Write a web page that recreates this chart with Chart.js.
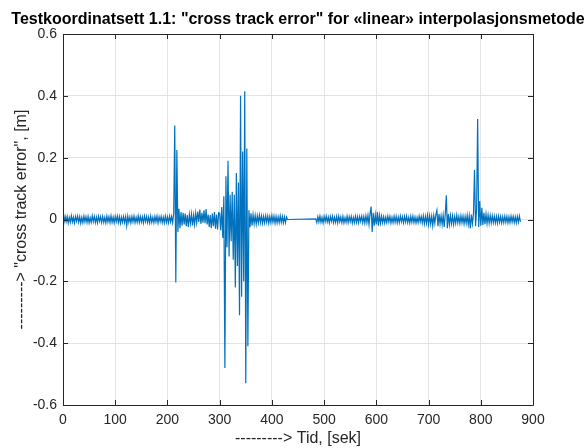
<!DOCTYPE html>
<html>
<head>
<meta charset="utf-8">
<script src="https://cdn.jsdelivr.net/npm/chart.js@4"></script>
<style>
  html, body { margin: 0; padding: 0; background: #ffffff; }
  #cte { display: block; }
</style>
</head>
<body>
<canvas id="cte" width="584" height="448"></canvas>
<script>
// cross track error [m], sampled every 2 s; each run starts at the time in segmentStart
const sampleStep = 2;
const segmentStart = [0, 210, 300, 362, 484];

const leadNoise = [
    0.009, -0.008, 0.011, -0.007, 0.01, -0.011, 0.007, -0.009, 0.012, -0.008,
    0.008, -0.011, 0.01, -0.006, 0.011, -0.009, 0.009, -0.012, 0.007, -0.01,
    0.011, -0.008, 0.009, -0.01, 0.01, -0.011, 0.006, -0.009, 0.012, -0.007,
    0.01, -0.01, 0.008, -0.011, 0.011, -0.006, 0.009, -0.01, 0.01, -0.009,
    0.007, -0.011, 0.011, -0.008, 0.009, -0.01, 0.012, -0.009, 0.008, -0.011,
    0.01, -0.007, 0.011, -0.01, 0.009, -0.012, 0.008, -0.009, 0.01, -0.01,
    0.009, -0.02, 0.011, -0.009, 0.008, -0.011, 0.01, -0.008, 0.011, -0.01,
    0.007, -0.009, 0.012, -0.01, 0.01, -0.008, 0.009, -0.011, 0.011, -0.007,
    0.01, -0.01, 0.008, -0.011, 0.011, -0.009, 0.007, -0.01, 0.01, -0.008,
    0.011, -0.011, 0.009, -0.007, 0.01, -0.01, 0.008, -0.011, 0.011, -0.009,
    0.009, -0.01, 0.011, -0.008, 0.01
];

const firstSpike = [
    -0.01, 0.02, 0.304, -0.204, 0.225, -0.04, 0.035, -0.028, 0.024, -0.02,
    0.022, -0.016, 0.019, -0.022, 0.014, -0.024, 0.016, -0.012, 0.018, -0.019,
    0.014, -0.016, 0.02, -0.01, 0.026, -0.008, 0.032, -0.014, 0.022, -0.01,
    0.03, -0.012, 0.034, -0.016, 0.016, -0.024, 0.014, -0.028, 0.019, -0.022,
    0.024, -0.03, 0.016, -0.032, 0.022
];

const burst = [
    0.02, -0.035, 0.04, -0.06, 0.075, -0.48, 0.14, -0.09, 0.19, -0.12,
    0.08, -0.07, 0.09, -0.13, 0.08, -0.22, 0.15, -0.15, 0.12, -0.31,
    0.40, -0.25, 0.22, -0.20, 0.415, -0.53, 0.23, -0.41, 0.03, -0.025,
    0.02
];

const settle = [
    -0.02, 0.016, -0.014, 0.013, -0.015, 0.012, -0.011, 0.014, -0.01, 0.012,
    -0.012, 0.01, -0.011, 0.012, -0.009, 0.011, -0.012, 0.01, -0.01, 0.013,
    -0.009, 0.011, -0.012, 0.01, -0.011, 0.009, -0.01, 0.012, -0.009, 0.01,
    -0.011, 0.009, -0.01, 0.008, 0.0
];

const secondRun = [
    0.002, -0.01, 0.009, -0.008, 0.011, -0.009, 0.007, -0.011, 0.01, -0.007,
    0.011, -0.008, 0.008, -0.011, 0.01, -0.006, 0.011, -0.01, 0.007, -0.009,
    0.01, -0.011, 0.011, -0.007, 0.008, -0.01, 0.01, -0.011, 0.006, -0.009,
    0.011, -0.01, 0.009, -0.007, 0.01, -0.011, 0.007, -0.01, 0.011, -0.009,
    0.009, -0.011, 0.01, -0.006, 0.011, -0.01, 0.009, -0.012, 0.012, -0.01,
    0.014, -0.016, 0.018, 0.042, -0.04, 0.022, -0.02, 0.015, -0.016, 0.024,
    -0.02, 0.014, -0.012, 0.011, -0.01, 0.009, -0.011, 0.008, -0.01, 0.011,
    -0.008, 0.01, -0.011, 0.007, -0.01, 0.011, -0.009, 0.01, -0.011, 0.008,
    -0.01, 0.011, -0.007, 0.009, -0.011, 0.01, -0.008, 0.011, -0.01, 0.007,
    -0.011, 0.01, -0.009, 0.011, -0.01, 0.008, -0.011, 0.007, -0.01, 0.011,
    -0.008, 0.01, -0.011, 0.012, -0.014, 0.01, -0.012, 0.014, -0.016, 0.012,
    -0.014, 0.011, -0.02, 0.013, -0.012, 0.016, 0.03, -0.022, 0.018, -0.014,
    0.012, -0.016, 0.014, -0.024, 0.016, 0.078, -0.028, 0.018, -0.016, 0.013,
    -0.014, 0.012, -0.016, 0.01, -0.012, 0.014, -0.011, 0.01, -0.013, 0.012,
    -0.01, 0.011, -0.014, 0.01, -0.012, 0.014, -0.016, 0.012, -0.028, 0.016,
    -0.014, 0.018, 0.16, -0.022, 0.034, 0.325, -0.024, 0.06, -0.02, 0.038,
    -0.018, 0.022, -0.015, 0.018, -0.013, 0.015, -0.012, 0.013, -0.011, 0.012,
    -0.01, 0.011, -0.011, 0.01, -0.012, 0.011, -0.009, 0.01, -0.011, 0.009,
    -0.01, 0.011, -0.009, 0.01, -0.011, 0.009, -0.01, 0.011, -0.008, 0.01,
    -0.01, 0.009, -0.011, 0.01, -0.009, 0.011, -0.008
];

const segments = [leadNoise, firstSpike, burst, settle, secondRun];

const xTicks = [0, 100, 200, 300, 400, 500, 600, 700, 800, 900];
const yTicks = [-0.6, -0.4, -0.2, 0, 0.2, 0.4, 0.6];

const titleText = 'Testkoordinatsett 1.1: "cross track error" for «linear» interpolasjonsmetode';
const xTitle = '---------> Tid, [sek]';
const yTitle = '---------> "cross track error", [m]';

const points = [];
segments.forEach((seg, s) => {
    seg.forEach((v, i) => {
        points.push({ x: segmentStart[s] + i * sampleStep, y: v });
    });
});

const fontFam = '"Liberation Sans", Arial, Helvetica, sans-serif';
const axisColor = '#262626';

// MATLAB-like box with inward ticks and a title centred over the axes
const boxPlugin = {
    id: 'matlabBox',
    afterDraw(chart) {
        const ctx = chart.ctx;
        const a = chart.chartArea;
        const xs = chart.scales.x, ys = chart.scales.y;
        const tl = 5;
        ctx.save();
        ctx.strokeStyle = axisColor;
        ctx.lineWidth = 1;
        ctx.beginPath();
        ctx.rect(Math.round(a.left) + 0.5, Math.round(a.top) + 0.5,
                 Math.round(a.right - a.left), Math.round(a.bottom - a.top));
        xTicks.forEach(t => {
            const px = Math.round(xs.getPixelForValue(t)) + 0.5;
            ctx.moveTo(px, a.bottom); ctx.lineTo(px, a.bottom - tl);
            ctx.moveTo(px, a.top); ctx.lineTo(px, a.top + tl);
        });
        yTicks.forEach(t => {
            const py = Math.round(ys.getPixelForValue(t)) + 0.5;
            ctx.moveTo(a.left, py); ctx.lineTo(a.left + tl, py);
            ctx.moveTo(a.right, py); ctx.lineTo(a.right - tl, py);
        });
        ctx.stroke();

        ctx.fillStyle = '#000000';
        ctx.font = 'bold 16px ' + fontFam;
        ctx.textAlign = 'center';
        ctx.textBaseline = 'middle';
        ctx.fillText(titleText, (a.left + a.right) / 2, 20);
        ctx.restore();
    }
};

new Chart(document.getElementById('cte'), {
    type: 'line',
    data: {
        datasets: [{
            data: points,
            borderColor: '#0072BD',
            borderWidth: 1.2,
            pointRadius: 0,
            fill: false,
            tension: 0
        }]
    },
    options: {
        responsive: false,
        animation: false,
        parsing: false,
        layout: { padding: { top: 34, right: 51, left: 0, bottom: 0 } },
        plugins: {
            legend: { display: false },
            title: { display: false },
            tooltip: { enabled: false }
        },
        scales: {
            x: {
                type: 'linear',
                min: 0,
                max: 900,
                afterBuildTicks: scale => { scale.ticks = xTicks.map(v => ({ value: v })); },
                afterFit: scale => { scale.height = 43; },
                grid: { color: '#e3e3e3', drawTicks: false },
                border: { display: false },
                ticks: {
                    padding: 7,
                    color: axisColor,
                    font: { family: fontFam, size: 14 },
                    maxRotation: 0,
                    callback: v => String(v)
                },
                title: {
                    display: true,
                    text: xTitle,
                    color: axisColor,
                    font: { family: fontFam, size: 16 },
                    padding: { top: 0, bottom: 0 }
                }
            },
            y: {
                type: 'linear',
                min: -0.6,
                max: 0.6,
                afterBuildTicks: scale => { scale.ticks = yTicks.map(v => ({ value: v })); },
                afterFit: scale => { scale.width = 63; },
                grid: { color: '#e3e3e3', drawTicks: false },
                border: { display: false },
                ticks: {
                    padding: 6,
                    color: axisColor,
                    font: { family: fontFam, size: 14 },
                    callback: v => String(Math.round(v * 10) / 10)
                },
                title: {
                    display: true,
                    text: yTitle,
                    color: axisColor,
                    font: { family: fontFam, size: 16 },
                    padding: { top: 12, bottom: 0 }
                }
            }
        }
    },
    plugins: [boxPlugin]
});
</script>
</body>
</html>
